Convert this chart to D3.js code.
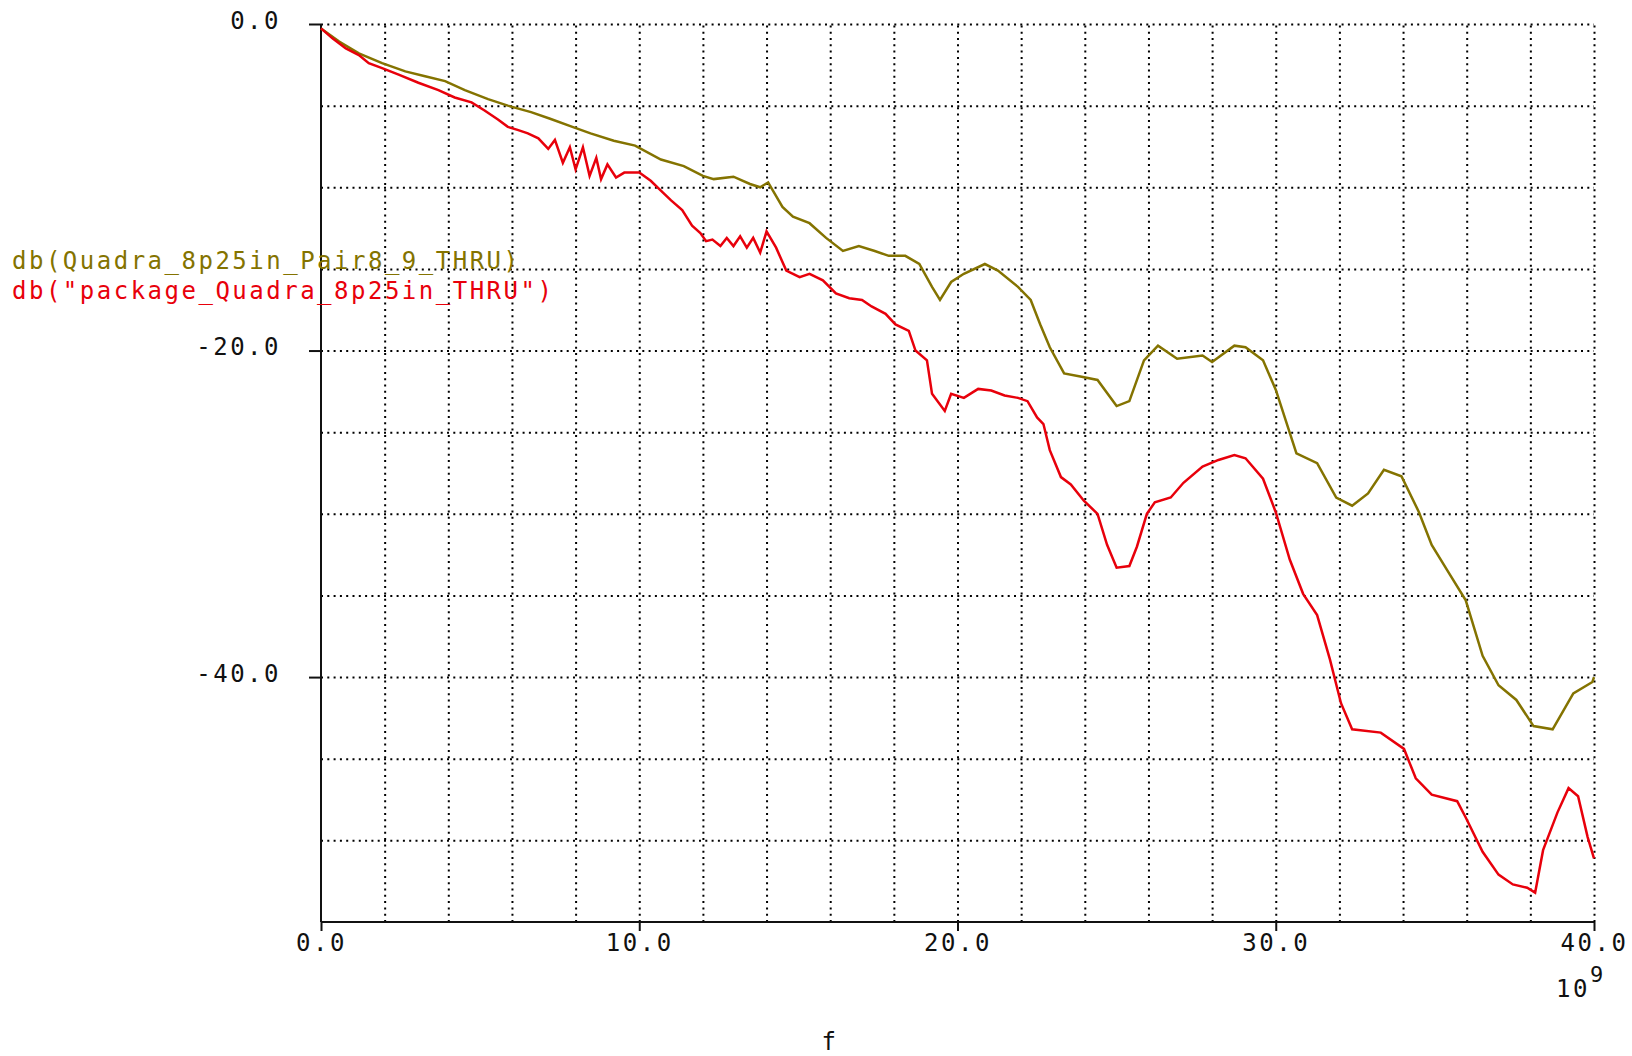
<!DOCTYPE html>
<html>
<head>
  <meta charset="utf-8" />
  <title>db plot</title>
  <style type="text/css">
    body { margin: 0; background: #fff; }
    svg text { font-family: 'DejaVu Sans Mono', 'Liberation Mono', monospace; font-size: 24px; letter-spacing: 2.5px; }
    .grid line { stroke: #000; stroke-width: 2; stroke-dasharray: 2,4.3; }
    .grid path { display: none; }
    .axis path, .axis line { stroke: #111; stroke-width: 2; }
  </style>
  <script src="https://cdnjs.cloudflare.com/ajax/libs/d3/7.8.5/d3.min.js"></script>
</head>
<body>
<div id="chart"></div>
<script>
// frequency in GHz (axis shown x 10^9), magnitude in dB
var pairFreq = [0, 0.57, 1.19, 1.92, 2.65, 3.27, 3.9, 4.52, 5.25, 5.87, 6.6, 7.2, 7.9, 8.47, 9.2, 9.87,
  10.68, 11.4, 12.0, 12.34, 12.96, 13.48, 13.8, 14.05, 14.5, 14.83, 15.35, 15.87, 16.4, 16.9, 17.4, 17.84,
  18.36, 18.8, 19.2, 19.45, 19.8, 20.2, 20.86, 21.27, 21.9, 22.3, 22.6, 22.9, 23.35, 23.9, 24.4, 25.0,
  25.4, 25.86, 26.3, 26.9, 27.7, 28.0, 28.7, 29.05, 29.6, 30.0, 30.65, 31.3, 31.9, 32.4, 32.9, 33.4,
  33.95, 34.5, 34.9, 35.4, 35.97, 36.5, 37.0, 37.56, 38.1, 38.7, 39.35, 39.95, 40];
var pairDb = [-0.27, -1.08, -1.8, -2.4, -2.9, -3.2, -3.5, -4.05, -4.6, -5.0, -5.4, -5.8, -6.3, -6.7, -7.15, -7.45,
  -8.3, -8.7, -9.3, -9.5, -9.35, -9.8, -10.0, -9.7, -11.2, -11.8, -12.2, -13.1, -13.9, -13.6, -13.9, -14.2,
  -14.2, -14.7, -16.1, -16.9, -15.8, -15.3, -14.7, -15.1, -16.1, -16.9, -18.4, -19.8, -21.4, -21.6, -21.8, -23.4,
  -23.1, -20.6, -19.7, -20.5, -20.3, -20.7, -19.7, -19.8, -20.6, -22.4, -26.3, -26.9, -29.0, -29.5, -28.75, -27.3,
  -27.7, -29.9, -31.9, -33.5, -35.3, -38.7, -40.5, -41.4, -43.0, -43.2, -41.0, -40.3, -40.0];

var pkgFreq = [0, 0.36, 0.78, 1.19, 1.5, 1.92, 2.44, 3.06, 3.69, 4.2, 4.73, 5.14, 5.56, 5.87, 6.2, 6.5,
  6.83, 7.14, 7.35, 7.6, 7.82, 8.0, 8.23, 8.44, 8.65, 8.8, 9.0, 9.27, 9.53, 10.0, 10.36, 10.68,
  11.0, 11.35, 11.66, 11.92, 12.1, 12.3, 12.55, 12.75, 12.96, 13.17, 13.38, 13.58, 13.8, 14.0, 14.3, 14.62,
  15.04, 15.35, 15.77, 16.18, 16.6, 17.0, 17.3, 17.74, 18.05, 18.47, 18.68, 19.04, 19.2, 19.6, 19.8, 20.2,
  20.65, 21.06, 21.48, 21.9, 22.2, 22.5, 22.7, 22.9, 23.25, 23.56, 23.97, 24.4, 24.7, 25.0, 25.4, 25.64,
  25.95, 26.2, 26.7, 27.1, 27.7, 28.2, 28.7, 29.05, 29.6, 30.0, 30.44, 30.86, 31.3, 31.7, 32.05, 32.4,
  33.3, 34.03, 34.4, 34.9, 35.7, 35.97, 36.5, 37.0, 37.45, 37.9, 38.15, 38.4, 38.85, 39.2, 39.5, 39.8, 40.0];
var pkgDb = [-0.27, -0.88, -1.5, -1.9, -2.4, -2.7, -3.1, -3.6, -4.05, -4.5, -4.8, -5.3, -5.85, -6.3, -6.5, -6.7,
  -7.0, -7.65, -7.1, -8.5, -7.55, -8.9, -7.55, -9.3, -8.2, -9.5, -8.6, -9.4, -9.1, -9.1, -9.6, -10.2,
  -10.8, -11.4, -12.35, -12.8, -13.3, -13.2, -13.6, -13.1, -13.6, -13.0, -13.7, -13.1, -14.0, -12.7, -13.7, -15.1,
  -15.5, -15.3, -15.7, -16.5, -16.8, -16.9, -17.3, -17.75, -18.4, -18.8, -20.0, -20.6, -22.65, -23.7, -22.65, -22.9,
  -22.35, -22.45, -22.75, -22.9, -23.1, -24.1, -24.5, -26.1, -27.75, -28.2, -29.2, -30.0, -31.9, -33.3, -33.2, -32.0,
  -30.0, -29.3, -29.0, -28.1, -27.1, -26.7, -26.4, -26.6, -27.85, -29.9, -32.8, -34.9, -36.2, -38.9, -41.6, -43.2,
  -43.4, -44.4, -46.2, -47.2, -47.6, -48.6, -50.7, -52.1, -52.7, -52.9, -53.2, -50.6, -48.3, -46.8, -47.3, -49.8, -51.1];

var seriesNames = ['db(Quadra_8p25in_Pair8_9_THRU)', 'db("package_Quadra_8p25in_THRU")'];
var seriesColors = ['#847300', '#e8000b'];

var xMajorTicks = [0, 10, 20, 30, 40];
var yMajorTicks = [0, -20, -40];
var xGridTicks = d3.range(2, 40.01, 2);
var yGridTicks = d3.range(0, -54, -5);

var margin = {top: 24, right: 38, bottom: 134, left: 321};
var W = 1632, H = 1056;
var width = W - margin.left - margin.right;
var height = H - margin.top - margin.bottom;

var svg = d3.select('#chart').append('svg').attr('width', W).attr('height', H);
var g = svg.append('g').attr('transform', 'translate(' + margin.left + ',' + margin.top + ')');

var x = d3.scaleLinear().domain([0, 40]).range([0, width]);
var y = d3.scaleLinear().domain([-55, 0]).range([height, 0]);

// dotted grid
g.append('g').attr('class', 'grid')
  .attr('transform', 'translate(0,' + height + ')')
  .call(d3.axisBottom(x).tickValues(xGridTicks).tickSize(-height).tickFormat(''));
g.append('g').attr('class', 'grid')
  .call(d3.axisLeft(y).tickValues(yGridTicks).tickSize(-width).tickFormat(''));

// axes
var fmt = function (d) { return d.toFixed(1); };
var xAxis = g.append('g').attr('class', 'axis')
  .attr('transform', 'translate(0,' + height + ')')
  .call(d3.axisBottom(x).tickValues(xMajorTicks).tickSize(9).tickPadding(3).tickFormat(fmt));
xAxis.select('.domain').attr('d', 'M0,0H' + width);
var yAxis = g.append('g').attr('class', 'axis')
  .call(d3.axisLeft(y).tickValues(yMajorTicks).tickSize(12).tickPadding(28).tickFormat(fmt));
yAxis.select('.domain').attr('d', 'M0,0V' + height);
g.selectAll('.axis text').attr('fill', '#111').style('font-size', '24px');
yAxis.selectAll('text').attr('dy', '4');

// curves
var line = d3.line().x(function (d) { return x(d[0]); }).y(function (d) { return y(d[1]); });
var series = [d3.zip(pairFreq, pairDb), d3.zip(pkgFreq, pkgDb)];
g.selectAll('path.curve')
  .data(series)
  .enter()
  .append('path')
  .attr('class', 'curve')
  .attr('fill', 'none')
  .attr('stroke', function (d, i) { return seriesColors[i]; })
  .attr('stroke-width', 2.5)
  .attr('stroke-linejoin', 'miter')
  .attr('d', line);

// legend
svg.selectAll('text.legend')
  .data(seriesNames)
  .enter()
  .append('text')
  .attr('class', 'legend')
  .attr('x', 12)
  .attr('y', function (d, i) { return 269 + i * 30; })
  .attr('fill', function (d, i) { return seriesColors[i]; })
  .text(function (d) { return d; });

// x label and exponent
svg.append('text').attr('x', 830).attr('y', 1050).attr('text-anchor', 'middle').attr('fill', '#111').text('f');
var expo = svg.append('text').attr('x', 1556).attr('y', 997).attr('fill', '#111');
expo.append('tspan').text('10');
expo.append('tspan').attr('dy', -15).style('font-size', '22px').text('9');
</script>
</body>
</html>
